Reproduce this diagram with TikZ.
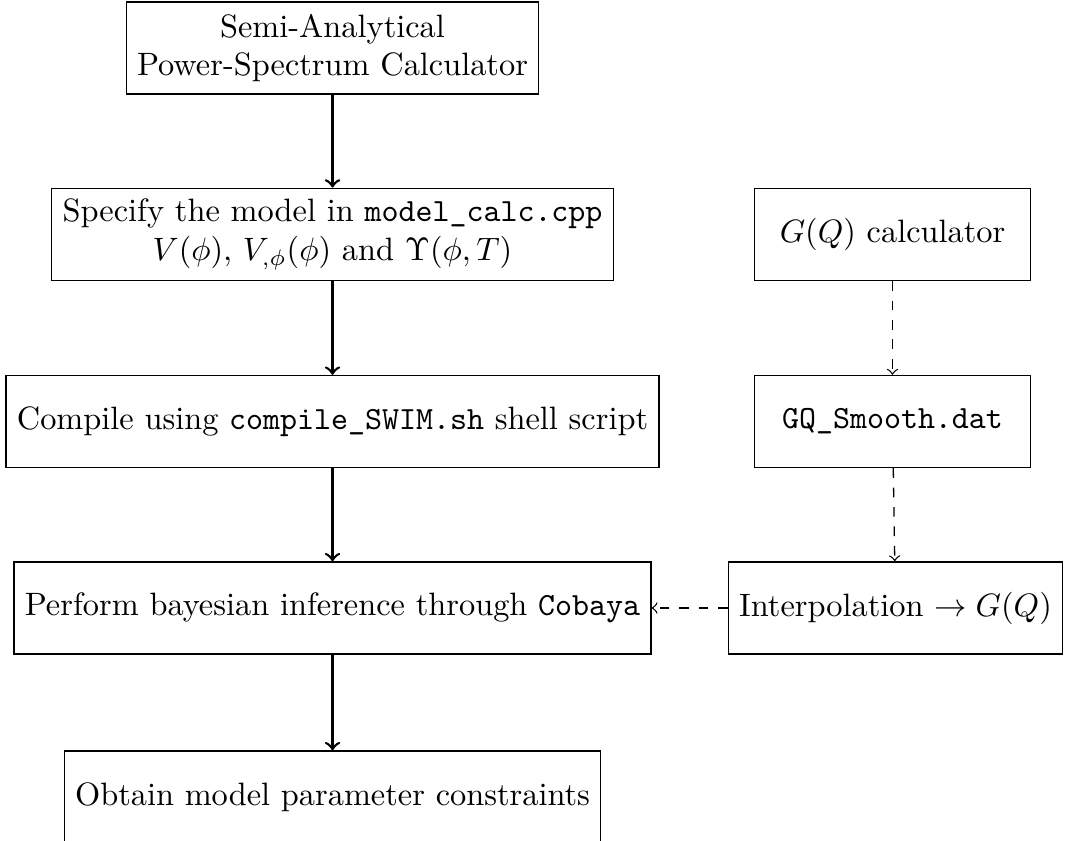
\documentclass[tikz,border=0pt]{standalone}
\usetikzlibrary{arrows}
\begin{document}
\begin{tikzpicture}[x=0.309pt,y=-0.309pt,
  stepbox/.style={draw,rectangle,minimum height=1cm,align=center,inner sep=3.33pt},
  wide/.style={stepbox,minimum width=3cm},
  mainarrow/.style={->,thick},
  sidearrow/.style={->,dashed}]
\useasboundingbox (0,0) rectangle (1069,841);
\node[stepbox] (calc) at (332.5,48) {Semi-Analytical\\Power-Spectrum Calculator};
\node[stepbox] (model) at (332.5,234.5) {Specify the model in \texttt{model\_calc.cpp}\\$V(\phi)$, $V_{,\phi}(\phi)$ and $\Upsilon(\phi,T)$};
\node[stepbox] (compile) at (332.5,421.5) {Compile using \texttt{compile\_SWIM.sh} shell script};
\node[stepbox] (infer) at (332.5,608) {Perform bayesian inference through \texttt{Cobaya}};
\node[stepbox] (obtain) at (332.5,797) {Obtain model parameter constraints};
\node[wide] (gq) at (892.5,234.5) {$G(Q)$ calculator};
\node[wide] (gqs) at (892.5,421.5) {\texttt{GQ\_Smooth.dat}};
\node[stepbox] (interp) at (895.5,608) {Interpolation $\rightarrow G(Q)$};
\draw[mainarrow] (calc) -- (model);
\draw[mainarrow] (model) -- (compile);
\draw[mainarrow] (compile) -- (infer);
\draw[mainarrow] (infer) -- (obtain);
\draw[sidearrow] (gq) -- (gqs);
\draw[sidearrow] (gqs) -- (interp);
\draw[sidearrow] (interp) -- (infer);
\end{tikzpicture}
\end{document}
